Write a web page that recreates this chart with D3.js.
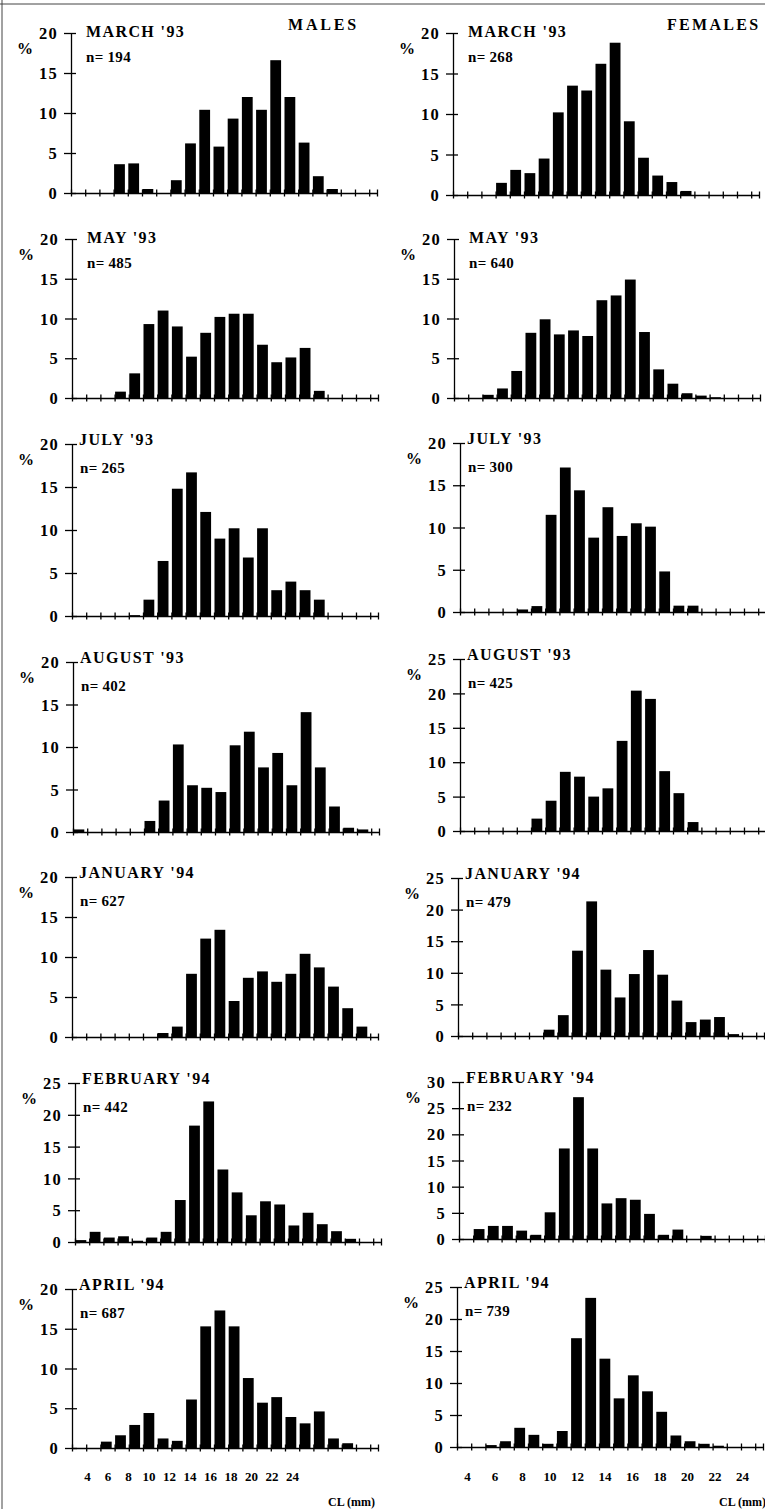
<!DOCTYPE html>
<html>
<head>
<meta charset="utf-8">
<script src="https://cdn.jsdelivr.net/npm/d3@7"></script>
<style>
  body { margin: 0; background: #fff; }
  svg { display: block; }
</style>
</head>
<body>
<svg id="chart" width="765" height="1509"></svg>
<script>
// size classes: CL bins (1 mm each), 22 per panel
const months = ["MARCH '93", "MAY '93", "JULY '93", "AUGUST '93", "JANUARY '94", "FEBRUARY '94", "APRIL '94"];
const nMales = [194, 485, 265, 402, 627, 442, 687];
const nFemales = [268, 640, 300, 425, 479, 232, 739];
const yMaxMales = [20, 20, 20, 20, 20, 25, 20];
const yMaxFemales = [20, 20, 20, 25, 25, 30, 25];
const clLabels = [4, 6, 8, 10, 12, 14, 16, 18, 20, 22, 24];

// % per size class, males
const march93M = [0, 0, 0, 3.6, 3.7, 0.5, 0, 1.6, 6.2, 10.4, 5.8, 9.3, 12.0, 10.4, 16.6, 12.0, 6.3, 2.1, 0.5, 0, 0, 0];
const may93M = [0, 0, 0, 0.8, 3.1, 9.3, 11.0, 9.0, 5.2, 8.2, 10.2, 10.6, 10.6, 6.7, 4.5, 5.1, 6.3, 0.9, 0, 0, 0, 0];
const jul93M = [0, 0, 0, 0, 0.1, 1.9, 6.4, 14.8, 16.7, 12.1, 9.0, 10.2, 6.8, 10.2, 3.0, 4.0, 3.0, 1.9, 0, 0, 0, 0];
const aug93M = [0.3, 0, 0, 0, 0, 1.3, 3.7, 10.3, 5.5, 5.2, 4.7, 10.2, 11.8, 7.6, 9.3, 5.5, 14.1, 7.6, 3.0, 0.5, 0.3, 0];
const jan94M = [0, 0, 0, 0, 0, 0, 0.5, 1.3, 7.9, 12.3, 13.4, 4.5, 7.4, 8.2, 6.9, 7.9, 10.4, 8.7, 6.3, 3.6, 1.3, 0];
const feb94M = [0.3, 1.6, 0.7, 0.9, 0.2, 0.7, 1.6, 6.6, 18.3, 22.1, 11.4, 7.8, 4.2, 6.4, 5.9, 2.6, 4.6, 2.8, 1.7, 0.5, 0, 0];
const apr94M = [0, 0, 0.8, 1.6, 2.9, 4.4, 1.2, 0.9, 6.1, 15.3, 17.3, 15.3, 8.8, 5.7, 6.4, 3.9, 3.1, 4.6, 1.2, 0.6, 0, 0];

// % per size class, females
const march93F = [0, 0, 0, 1.5, 3.1, 2.7, 4.5, 10.2, 13.5, 12.9, 16.2, 18.8, 9.1, 4.6, 2.4, 1.6, 0.5, 0, 0, 0, 0, 0];
const may93F = [0, 0, 0.4, 1.2, 3.4, 8.2, 9.9, 8.0, 8.5, 7.8, 12.3, 12.9, 14.9, 8.3, 3.6, 1.8, 0.6, 0.3, 0.1, 0, 0, 0];
const jul93F = [0, 0, 0, 0, 0.3, 0.7, 11.5, 17.1, 14.4, 8.8, 12.4, 9.0, 10.5, 10.1, 4.8, 0.75, 0.75, 0, 0, 0, 0, 0];
const aug93F = [0, 0, 0, 0, 0, 1.8, 4.4, 8.6, 7.9, 5.0, 6.2, 13.1, 20.4, 19.2, 8.7, 5.5, 1.3, 0, 0, 0, 0, 0];
const jan94F = [0, 0, 0, 0, 0, 0, 1.0, 3.3, 13.5, 21.3, 10.5, 6.1, 9.8, 13.6, 9.7, 5.6, 2.2, 2.6, 3.0, 0.3, 0, 0];
const feb94F = [0, 1.9, 2.5, 2.5, 1.6, 0.8, 5.1, 17.3, 27.1, 17.3, 6.8, 7.8, 7.5, 4.8, 0.8, 1.8, 0, 0.6, 0, 0, 0, 0];
const apr94F = [0, 0, 0.3, 0.9, 3.0, 1.9, 0.5, 2.5, 17.0, 23.3, 13.8, 7.6, 11.2, 8.7, 5.5, 1.8, 0.9, 0.5, 0.2, 0, 0, 0];

const males = [march93M, may93M, jul93M, aug93M, jan94M, feb94M, apr94M];
const females = [march93F, may93F, jul93F, aug93F, jan94F, feb94F, apr94F];

// page layout (pixels)
const rowTopL = [33, 239, 444, 662, 877, 1083, 1289];
const rowZeroL = [193, 398, 616, 832, 1037, 1242, 1448];
const rowTopR = [33, 239, 443, 659, 878, 1082, 1287];
const rowZeroR = [195, 398, 612, 831, 1036, 1239, 1447];
const axisXL = [71, 72, 72, 73, 72, 75, 72];
const axisXR = [453, 454, 460, 460, 458, 459, 457];
const axisLen = 306;
const nBins = 22;

const serif = "'Liberation Serif', 'Times New Roman', serif";

const svg = d3.select("#chart");
svg.append("rect").attr("width", 765).attr("height", 1509).attr("fill", "#fff");

// scan frame
svg.append("line").attr("x1", 2).attr("x2", 2).attr("y1", 0).attr("y2", 1509)
    .attr("stroke", "#444").attr("stroke-width", 1);
svg.append("line").attr("x1", 0).attr("x2", 765).attr("y1", 4).attr("y2", 4)
    .attr("stroke", "#444").attr("stroke-width", 1);

function drawPanel(opts) {
    const g = svg.append("g")
        .attr("font-family", serif)
        .attr("font-weight", "bold");

    const x = d3.scaleLinear()
        .domain([0, 21.55])
        .range([opts.ax, opts.ax + axisLen]);
    const y = d3.scaleLinear()
        .domain([0, opts.yMax])
        .range([opts.zero, opts.top]);

    // bars
    g.selectAll("rect.bar")
        .data(opts.values)
        .join("rect")
        .attr("class", "bar")
        .attr("x", (d, i) => x(i) + 0.5)
        .attr("width", x(0.76) - x(0))
        .attr("y", d => y(d))
        .attr("height", d => y(0) - y(d))
        .attr("fill", "#000");

    // x axis
    const xg = g.append("g")
        .attr("transform", `translate(0, ${opts.zero})`)
        .call(d3.axisBottom(x)
            .tickValues(d3.range(0, nBins).concat([21.55]))
            .tickSizeOuter(0)
            .tickSize(0)
            .tickFormat(""));
    xg.select(".domain").attr("stroke", "#000").attr("stroke-width", 1.3);
    xg.selectAll(".tick line")
        .attr("y1", -3.5).attr("y2", 3.5)
        .attr("stroke", "#000").attr("stroke-width", 1.3);

    // y axis
    const yg = g.append("g")
        .attr("transform", `translate(${opts.ax}, 0)`)
        .call(d3.axisLeft(y)
            .tickValues(d3.range(0, opts.yMax + 1, 5))
            .tickSizeOuter(0)
            .tickSize(0)
            .tickPadding(13));
    yg.select(".domain").attr("stroke", "#000").attr("stroke-width", 1.3);
    yg.selectAll(".tick line")
        .attr("x1", -7).attr("x2", 5)
        .attr("stroke", "#000").attr("stroke-width", 1.3);
    yg.attr("font-family", serif).attr("font-size", 16.5).attr("font-weight", "bold");
    yg.selectAll(".tick text")
        .attr("fill", "#000")
        .attr("dy", "0.34em")
        .attr("letter-spacing", 1.2);

    // % label
    g.append("text")
        .attr("x", opts.ax - 54)
        .attr("y", opts.top + 21)
        .attr("font-size", 16)
        .text("%");

    // month title and n
    const early = opts.row < 2;
    g.append("text")
        .attr("x", opts.ax + (early ? 15 : 7))
        .attr("y", opts.top + (early ? 4 : 1))
        .attr("font-size", 16)
        .attr("letter-spacing", 1.4)
        .text(opts.title);
    g.append("text")
        .attr("x", opts.ax + (early ? 15 : 8))
        .attr("y", opts.top + 29)
        .attr("font-size", 15)
        .attr("letter-spacing", 0.3)
        .text("n= " + opts.n);
}

months.forEach((m, i) => {
    drawPanel({row: i, title: m, n: nMales[i], values: males[i], yMax: yMaxMales[i],
        ax: axisXL[i], top: rowTopL[i], zero: rowZeroL[i]});
    drawPanel({row: i, title: m, n: nFemales[i], values: females[i], yMax: yMaxFemales[i],
        ax: axisXR[i], top: rowTopR[i], zero: rowZeroR[i]});
});

// sex headers
svg.append("text").attr("x", 288).attr("y", 30)
    .attr("font-family", serif).attr("font-weight", "bold").attr("font-size", 16)
    .attr("letter-spacing", 2.8).text("MALES");
svg.append("text").attr("x", 667).attr("y", 30)
    .attr("font-family", serif).attr("font-weight", "bold").attr("font-size", 16)
    .attr("letter-spacing", 2.3).text("FEMALES");

// CL label rows under the bottom panels
function clAxis(x0, x1, unitX) {
    const s = d3.scaleLinear().domain([4, 24]).range([x0, x1]);
    const ag = svg.append("g")
        .attr("transform", "translate(0, 1468)")
        .call(d3.axisBottom(s).tickValues(clLabels).tickSize(0).tickPadding(4));
    ag.select(".domain").remove();
    ag.attr("font-family", serif).attr("font-size", 13).attr("font-weight", "bold");
    ag.selectAll(".tick text").attr("fill", "#000");
    svg.append("text").attr("x", unitX).attr("y", 1506)
        .attr("font-family", serif).attr("font-weight", "bold").attr("font-size", 12)
        .text("CL (mm)");
}
clAxis(87, 292, 328);
clAxis(467, 742, 719);
</script>
</body>
</html>
